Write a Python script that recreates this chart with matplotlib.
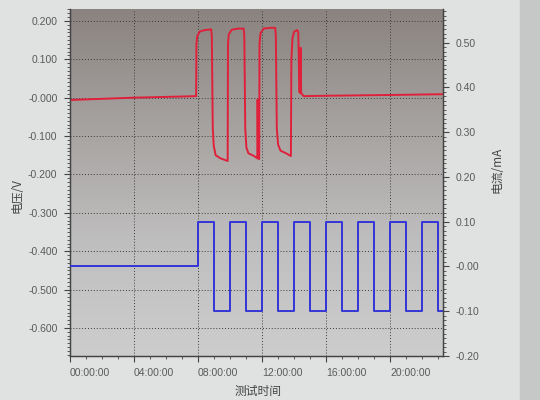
import matplotlib
matplotlib.use("Agg")
import matplotlib.pyplot as plt
import numpy as np
from matplotlib.colors import LinearSegmentedColormap
from matplotlib.patches import Rectangle
from matplotlib.ticker import MultipleLocator

plt.rcParams["font.family"] = ["Noto Sans CJK SC", "DejaVu Sans"]

# voltage trace (red, left axis), time in hours
volt_hours = [
    0.0, 2.0, 4.0, 6.0, 7.88,
    7.90, 7.95, 8.10, 8.40, 8.82, 8.86, 8.92, 8.98, 9.10, 9.40, 9.85,
    9.87, 9.92, 10.10, 10.50, 10.85, 10.89, 10.95, 11.02, 11.15, 11.50, 11.70,
    11.72, 11.75, 11.82,
    11.84, 11.90, 12.10, 12.50, 12.82, 12.86, 12.92, 13.00, 13.15, 13.50, 13.80,
    13.83, 13.90, 14.00, 14.20, 14.26, 14.29, 14.32, 14.38, 14.41, 14.44,
    14.60, 16.0, 20.0, 23.3,
]
volt_values = [
    -0.006, -0.003, 0.000, 0.002, 0.004,
    0.140, 0.160, 0.172, 0.176, 0.178, 0.160, -0.080, -0.125, -0.150, -0.158, -0.165,
    0.140, 0.165, 0.177, 0.180, 0.180, 0.160, -0.080, -0.130, -0.145, -0.152, -0.158,
    -0.005, -0.158, -0.160,
    0.140, 0.168, 0.180, 0.182, 0.182, 0.160, -0.080, -0.122, -0.138, -0.145, -0.152,
    0.100, 0.155, 0.172, 0.176, 0.170, 0.110, 0.015, 0.012, 0.130, 0.012,
    0.004, 0.005, 0.007, 0.009,
]

# current trace (blue, right axis): step edges in hours and the level after each edge
curr_edges = [0.0, 8.0, 9.0, 10.0, 11.0, 12.0, 13.0, 14.0, 15.0, 16.0,
              17.0, 18.0, 19.0, 20.0, 21.0, 22.0, 23.0, 23.3]
curr_levels = [0.0, 0.1, -0.1, 0.1, -0.1, 0.1, -0.1, 0.1, -0.1, 0.1,
               -0.1, 0.1, -0.1, 0.1, -0.1, 0.1, -0.1, -0.1]

time_ticks = [0, 4, 8, 12, 16, 20]
time_labels = ["00:00:00", "04:00:00", "08:00:00", "12:00:00", "16:00:00", "20:00:00"]
volt_ticks = [-0.6, -0.5, -0.4, -0.3, -0.2, -0.1, 0.0, 0.1, 0.2]
volt_labels = ["-0.600", "-0.500", "-0.400", "-0.300", "-0.200", "-0.100", "-0.000", "0.100", "0.200"]
curr_ticks = [-0.2, -0.1, 0.0, 0.1, 0.2, 0.3, 0.4, 0.5]
curr_labels = ["-0.20", "-0.10", "-0.00", "0.10", "0.20", "0.30", "0.40", "0.50"]

fig = plt.figure(figsize=(5.4, 4.0), dpi=100, facecolor="#e0e1e1")
fig.patches.append(Rectangle((0.963, 0), 0.037, 1, transform=fig.transFigure,
                             color="#c6c7c7", zorder=-1))

ax = fig.add_axes([0.1296, 0.11, 0.6907, 0.8675])
ax2 = ax.twinx()

# grey gradient plot background, darker at the top
bg = LinearSegmentedColormap.from_list("bg", ["#8a837f", "#a6a2a0", "#bfbebe", "#cdcdcd"])
grad = np.linspace(0, 1, 256).reshape(-1, 1)
ax.imshow(grad, extent=[0, 1, 0, 1], transform=ax.transAxes, cmap=bg,
          aspect="auto", zorder=0, interpolation="bilinear")

ax.plot(volt_hours, volt_values, color="#e0203a", lw=1.4, zorder=3)
ax2.step(curr_edges, curr_levels, where="post", color="#3434d6", lw=1.4, zorder=3)

ax.set_xlim(0, 23.3)
ax.set_ylim(-0.673, 0.231)
ax2.set_ylim(-0.20, 0.575)

ax.set_xticks(time_ticks, time_labels)
ax.xaxis.set_minor_locator(MultipleLocator(1))
for lbl in ax.get_xticklabels():
    lbl.set_horizontalalignment("left")

ax.set_yticks(volt_ticks, volt_labels)
ax.yaxis.set_minor_locator(MultipleLocator(0.01))
ax2.set_yticks(curr_ticks, curr_labels)
ax2.yaxis.set_minor_locator(MultipleLocator(0.01))

for a in (ax, ax2):
    a.tick_params(which="major", direction="out", length=4, width=0.8, color="#444444",
                  labelsize=7.5, labelcolor="#5a5a5a", pad=5)
    a.tick_params(which="minor", direction="out", length=2, width=0.6, color="#444444")
    for lbl in a.get_xticklabels() + a.get_yticklabels():
        lbl.set_family(["Liberation Sans", "DejaVu Sans"])
    for side in ("left", "right", "bottom"):
        a.spines[side].set_color("#444444")
        a.spines[side].set_linewidth(0.9)
    a.spines["top"].set_visible(False)

ax.grid(True, which="major", linestyle=(0, (1, 2)), color="#3a3a3a", linewidth=0.7)
ax.set_axisbelow(False)

fig.text(17 / 540, 1 - 196 / 400, "电压/V", rotation=90, ha="center", va="center",
         fontsize=8.5, color="#444444")
fig.text(497 / 540, 1 - 170 / 400, "电流/mA", rotation=90, ha="center", va="center",
         fontsize=8.5, color="#444444")
fig.text(258 / 540, 1 - 391 / 400, "测试时间", ha="center", va="center",
         fontsize=8.5, color="#444444")

fig.savefig("out.png", dpi=100, facecolor=fig.get_facecolor())
